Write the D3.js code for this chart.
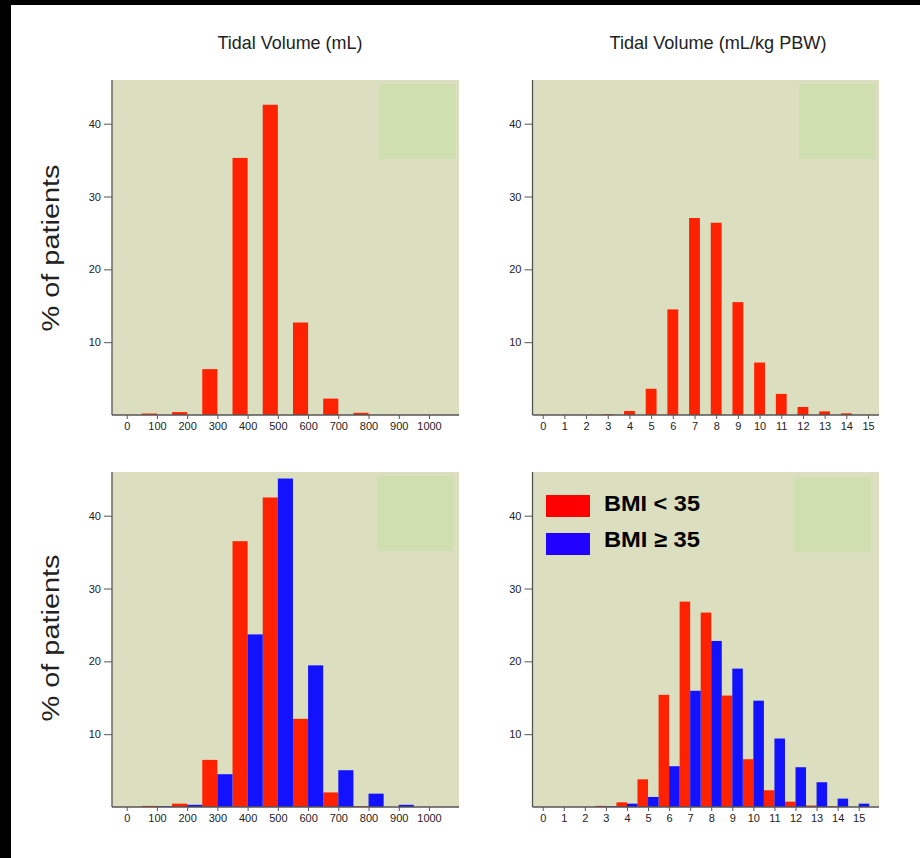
<!DOCTYPE html>
<html>
<head>
<meta charset="utf-8">
<script src="https://cdn.jsdelivr.net/npm/d3@7"></script>
<style>
  body { margin: 0; background: #fff; }
  svg { display: block; font-family: "Liberation Sans", Arial, sans-serif; }
</style>
</head>
<body>
<svg width="920" height="858"></svg>
<script>
var width = 920,
    height = 858

// bins
var tvBins = [0, 100, 200, 300, 400, 500, 600, 700, 800, 900, 1000];
var pbwBins = [0, 1, 2, 3, 4, 5, 6, 7, 8, 9, 10, 11, 12, 13, 14, 15];
var yTicks = [10, 20, 30, 40];

// % of patients, all patients
var tvAll = [0, 0.2, 0.4, 6.3, 35.3, 42.6, 12.7, 2.25, 0.3, 0, 0];
var pbwAll = [0, 0, 0, 0.1, 0.55, 3.6, 14.5, 27.05, 26.4, 15.5, 7.2, 2.9, 1.1, 0.5, 0.23, 0];

// % of patients by BMI group
var tvLow = [0, 0.15, 0.46, 6.47, 36.5, 42.5, 12.1, 2.0, 0.1, 0, 0];
var tvHigh = [0, 0.1, 0.3, 4.5, 23.7, 45.1, 19.45, 5.05, 1.83, 0.3, 0];
var pbwLow = [0, 0, 0, 0.15, 0.64, 3.8, 15.4, 28.2, 26.7, 15.3, 6.56, 2.3, 0.73, 0.2, 0.1, 0];
var pbwHigh = [0, 0, 0, 0.1, 0.46, 1.38, 5.6, 15.96, 22.8, 19.0, 14.6, 9.4, 5.46, 3.4, 1.15, 0.46];

var seriesNames = ["BMI < 35", "BMI \u2265 35"];

var red = "#ff2200",
    blue = "#1212ff",
    plotBg = "#dbdfbf",
    patchBg = "#cfdfb0";

var svg = d3.select("svg");

// black frame edges of the original slide
svg.append("rect").attr("x", 0).attr("y", 0).attr("width", width).attr("height", 5).attr("fill", "#000");
svg.append("rect").attr("x", 0).attr("y", 0).attr("width", 11).attr("height", height).attr("fill", "#000");

function drawPanel(opt) {
    var x = d3.scaleLinear().domain(opt.domain).range(opt.xRange);
    var y = d3.scaleLinear().domain([0, 46]).range([opt.bottom, opt.top]);

    var g = svg.append("g");

    g.append("rect")
        .attr("x", opt.left)
        .attr("y", opt.top)
        .attr("width", opt.right - opt.left)
        .attr("height", opt.bottom - opt.top)
        .attr("fill", plotBg);

    g.append("rect")
        .attr("x", opt.patch[0])
        .attr("y", opt.patch[1])
        .attr("width", opt.patch[2])
        .attr("height", opt.patch[3])
        .attr("fill", patchBg);

    opt.series.forEach(function (s) {
        g.append("g")
            .selectAll("rect")
            .data(s.values.map(function (v, i) { return { bin: opt.bins[i], value: v }; }))
            .enter()
            .append("rect")
            .attr("x", function (d) { return x(d.bin + s.from); })
            .attr("width", function (d) { return x(d.bin + s.to) - x(d.bin + s.from); })
            .attr("y", function (d) { return y(d.value); })
            .attr("height", function (d) { return y(0) - y(d.value); })
            .attr("fill", s.color);
    });

    var xAxis = g.append("g")
        .attr("transform", "translate(0," + opt.bottom + ")")
        .call(d3.axisBottom(x).tickValues(opt.bins).tickFormat(d3.format("d")).tickSize(4).tickPadding(3));
    xAxis.select(".domain").remove();
    xAxis.append("line")
        .attr("x1", opt.left).attr("x2", opt.right)
        .attr("stroke", "#555").attr("stroke-width", 1.3);

    var yAxis = g.append("g")
        .attr("transform", "translate(" + opt.left + ",0)")
        .call(d3.axisLeft(y).tickValues(yTicks).tickSize(8).tickPadding(3));
    yAxis.select(".domain").remove();
    yAxis.append("line")
        .attr("y1", opt.top).attr("y2", opt.bottom)
        .attr("stroke", "#555").attr("stroke-width", 1.3);

    g.selectAll(".tick line").attr("stroke", "#555");
    g.selectAll(".tick text")
        .attr("fill", "#222")
        .style("font-size", "11px")
        .style("font-family", "'Liberation Sans', Arial, sans-serif");

    return { x: x, y: y };
}

var topRow = { top: 80, bottom: 415 },
    botRow = { top: 472, bottom: 807 };

drawPanel({
    domain: [0, 1000], xRange: [126.7, 429], left: 112, right: 459,
    top: topRow.top, bottom: topRow.bottom, bins: tvBins,
    patch: [379, 84, 77, 75],
    series: [{ values: tvAll, color: red, from: -50, to: 0 }]
});

drawPanel({
    domain: [0, 15], xRange: [542.7, 868], left: 532.5, right: 879,
    top: topRow.top, bottom: topRow.bottom, bins: pbwBins,
    patch: [799, 84, 77, 75],
    series: [{ values: pbwAll, color: red, from: -0.25, to: 0.25 }]
});

drawPanel({
    domain: [0, 1000], xRange: [126.7, 429], left: 112, right: 459,
    top: botRow.top, bottom: botRow.bottom, bins: tvBins,
    patch: [377, 476, 77, 75],
    series: [
        { values: tvLow, color: red, from: -50, to: 0 },
        { values: tvHigh, color: blue, from: 0, to: 50 }
    ]
});

drawPanel({
    domain: [0, 15], xRange: [542.7, 858.7], left: 532.5, right: 879,
    top: botRow.top, bottom: botRow.bottom, bins: pbwBins,
    patch: [794, 477, 77, 75],
    series: [
        { values: pbwLow, color: red, from: -0.5, to: 0 },
        { values: pbwHigh, color: blue, from: 0, to: 0.5 }
    ]
});

// legend
var legend = svg.append("g").attr("transform", "translate(546,495)");
legend.selectAll("rect")
    .data(seriesNames)
    .enter()
    .append("rect")
    .attr("x", 0)
    .attr("y", function (d, i) { return i * 38; })
    .attr("width", 44)
    .attr("height", 22)
    .attr("fill", function (d, i) { return i === 0 ? "#ff0000" : "#2200ff"; });
legend.selectAll("text")
    .data(seriesNames)
    .enter()
    .append("text")
    .attr("x", 58)
    .attr("y", function (d, i) { return 16 + i * 36; })
    .attr("font-size", "22px")
    .attr("font-weight", "bold")
    .attr("fill", "#000")
    .attr("textLength", 96)
    .attr("lengthAdjust", "spacingAndGlyphs")
    .text(function (d) { return d; });

// column titles
var titles = [
    { text: "Tidal Volume (mL)", x: 290, len: 145 },
    { text: "Tidal Volume (mL/kg PBW)", x: 718, len: 217 }
];
svg.selectAll(".title")
    .data(titles)
    .enter()
    .append("text")
    .attr("class", "title")
    .attr("x", function (d) { return d.x; })
    .attr("y", 49)
    .attr("text-anchor", "middle")
    .attr("font-size", "19px")
    .attr("fill", "#222")
    .attr("textLength", function (d) { return d.len; })
    .attr("lengthAdjust", "spacingAndGlyphs")
    .text(function (d) { return d.text; });

// row labels
[248, 638].forEach(function (cy) {
    svg.append("text")
        .attr("transform", "translate(59," + cy + ") rotate(-90)")
        .attr("text-anchor", "middle")
        .attr("font-size", "23px")
        .attr("fill", "#222")
        .attr("textLength", 167)
        .attr("lengthAdjust", "spacingAndGlyphs")
        .text("% of patients");
});
</script>
</body>
</html>
